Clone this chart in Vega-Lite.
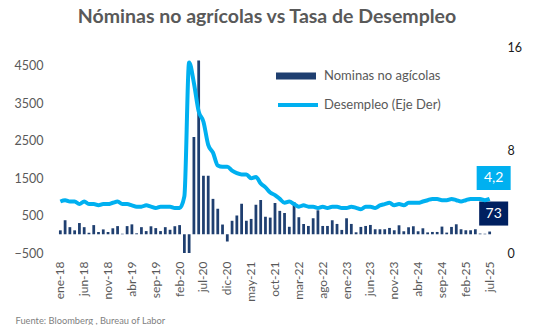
{
  "$schema": "https://vega.github.io/schema/vega-lite/v6.json",
  "width": 434,
  "height": 206,
  "autosize": {"type": "none"},
  "padding": {"left": 58, "top": 47, "right": 56, "bottom": 72},
  "background": "white",
  "config": {
    "font": "Lato",
    "view": {"stroke": null},
    "axis": {"grid": false, "domain": false, "ticks": false}
  },
  "title": {
    "text": "Nóminas no agrícolas vs Tasa de Desempleo",
    "fontSize": 19.5,
    "fontWeight": "bold",
    "color": "#595959",
    "font": "Lato",
    "anchor": "middle",
    "dx": -8,
    "offset": 14
  },
  "data": {
    "values": [
      {"mes": "ene-18", "nominas": 105, "desempleo": 4.0},
      {"mes": "feb-18", "nominas": 375, "desempleo": 4.1},
      {"mes": "mar-18", "nominas": 190, "desempleo": 4.0},
      {"mes": "abr-18", "nominas": 105, "desempleo": 4.0},
      {"mes": "may-18", "nominas": 300, "desempleo": 3.8},
      {"mes": "jun-18", "nominas": 190, "desempleo": 4.0},
      {"mes": "jul-18", "nominas": 40, "desempleo": 3.8},
      {"mes": "ago-18", "nominas": 245, "desempleo": 3.8},
      {"mes": "sep-18", "nominas": 60, "desempleo": 3.7},
      {"mes": "oct-18", "nominas": 130, "desempleo": 3.8},
      {"mes": "nov-18", "nominas": 60, "desempleo": 3.8},
      {"mes": "dic-18", "nominas": 160, "desempleo": 3.9},
      {"mes": "ene-19", "nominas": 218, "desempleo": 4.0},
      {"mes": "feb-19", "nominas": 15, "desempleo": 3.8},
      {"mes": "mar-19", "nominas": 218, "desempleo": 3.8},
      {"mes": "abr-19", "nominas": 265, "desempleo": 3.7},
      {"mes": "may-19", "nominas": 25, "desempleo": 3.6},
      {"mes": "jun-19", "nominas": 190, "desempleo": 3.6},
      {"mes": "jul-19", "nominas": 85, "desempleo": 3.7},
      {"mes": "ago-19", "nominas": 213, "desempleo": 3.6},
      {"mes": "sep-19", "nominas": 165, "desempleo": 3.5},
      {"mes": "oct-19", "nominas": 85, "desempleo": 3.6},
      {"mes": "nov-19", "nominas": 190, "desempleo": 3.6},
      {"mes": "dic-19", "nominas": 120, "desempleo": 3.6},
      {"mes": "ene-20", "nominas": 215, "desempleo": 3.5},
      {"mes": "feb-20", "nominas": 245, "desempleo": 3.5},
      {"mes": "mar-20", "nominas": -1373, "desempleo": 4.4},
      {"mes": "abr-20", "nominas": -20477, "desempleo": 14.8},
      {"mes": "may-20", "nominas": 2600, "desempleo": 13.2},
      {"mes": "jun-20", "nominas": 4640, "desempleo": 11.0},
      {"mes": "jul-20", "nominas": 1560, "desempleo": 10.2},
      {"mes": "ago-20", "nominas": 1560, "desempleo": 8.4},
      {"mes": "sep-20", "nominas": 945, "desempleo": 7.8},
      {"mes": "oct-20", "nominas": 680, "desempleo": 6.8},
      {"mes": "nov-20", "nominas": 260, "desempleo": 6.7},
      {"mes": "dic-20", "nominas": -190, "desempleo": 6.7},
      {"mes": "ene-21", "nominas": 360, "desempleo": 6.4},
      {"mes": "feb-21", "nominas": 500, "desempleo": 6.2},
      {"mes": "mar-21", "nominas": 815, "desempleo": 6.1},
      {"mes": "abr-21", "nominas": 360, "desempleo": 6.1},
      {"mes": "may-21", "nominas": 410, "desempleo": 5.8},
      {"mes": "jun-21", "nominas": 785, "desempleo": 5.9},
      {"mes": "jul-21", "nominas": 915, "desempleo": 5.4},
      {"mes": "ago-21", "nominas": 470, "desempleo": 5.1},
      {"mes": "sep-21", "nominas": 445, "desempleo": 4.7},
      {"mes": "oct-21", "nominas": 835, "desempleo": 4.5},
      {"mes": "nov-21", "nominas": 625, "desempleo": 4.2},
      {"mes": "dic-21", "nominas": 570, "desempleo": 3.9},
      {"mes": "ene-22", "nominas": 200, "desempleo": 4.0},
      {"mes": "feb-22", "nominas": 855, "desempleo": 3.8},
      {"mes": "mar-22", "nominas": 455, "desempleo": 3.6},
      {"mes": "abr-22", "nominas": 275, "desempleo": 3.7},
      {"mes": "may-22", "nominas": 222, "desempleo": 3.6},
      {"mes": "jun-22", "nominas": 427, "desempleo": 3.6},
      {"mes": "jul-22", "nominas": 640, "desempleo": 3.5},
      {"mes": "ago-22", "nominas": 222, "desempleo": 3.6},
      {"mes": "sep-22", "nominas": 222, "desempleo": 3.5},
      {"mes": "oct-22", "nominas": 374, "desempleo": 3.6},
      {"mes": "nov-22", "nominas": 276, "desempleo": 3.6},
      {"mes": "dic-22", "nominas": 116, "desempleo": 3.5},
      {"mes": "ene-23", "nominas": 427, "desempleo": 3.5},
      {"mes": "feb-23", "nominas": 276, "desempleo": 3.6},
      {"mes": "mar-23", "nominas": 53, "desempleo": 3.5},
      {"mes": "abr-23", "nominas": 196, "desempleo": 3.4},
      {"mes": "may-23", "nominas": 222, "desempleo": 3.6},
      {"mes": "jun-23", "nominas": 249, "desempleo": 3.6},
      {"mes": "jul-23", "nominas": 134, "desempleo": 3.5},
      {"mes": "ago-23", "nominas": 134, "desempleo": 3.7},
      {"mes": "sep-23", "nominas": 134, "desempleo": 3.8},
      {"mes": "oct-23", "nominas": 169, "desempleo": 3.9},
      {"mes": "nov-23", "nominas": 107, "desempleo": 3.7},
      {"mes": "dic-23", "nominas": 240, "desempleo": 3.8},
      {"mes": "ene-24", "nominas": 80, "desempleo": 3.7},
      {"mes": "feb-24", "nominas": 187, "desempleo": 3.9},
      {"mes": "mar-24", "nominas": 214, "desempleo": 3.9},
      {"mes": "abr-24", "nominas": 80, "desempleo": 3.9},
      {"mes": "may-24", "nominas": 160, "desempleo": 4.0},
      {"mes": "jun-24", "nominas": 50, "desempleo": 4.1},
      {"mes": "jul-24", "nominas": 62, "desempleo": 4.2},
      {"mes": "ago-24", "nominas": 62, "desempleo": 4.2},
      {"mes": "sep-24", "nominas": 205, "desempleo": 4.1},
      {"mes": "oct-24", "nominas": 45, "desempleo": 4.1},
      {"mes": "nov-24", "nominas": 196, "desempleo": 4.2},
      {"mes": "dic-24", "nominas": 267, "desempleo": 4.1},
      {"mes": "ene-25", "nominas": 134, "desempleo": 4.0},
      {"mes": "feb-25", "nominas": 107, "desempleo": 4.1},
      {"mes": "mar-25", "nominas": 107, "desempleo": 4.2},
      {"mes": "abr-25", "nominas": 134, "desempleo": 4.2},
      {"mes": "may-25", "nominas": 19, "desempleo": 4.2},
      {"mes": "jun-25", "nominas": 14, "desempleo": 4.1},
      {"mes": "jul-25", "nominas": 73, "desempleo": 4.2}
    ]
  },
  "encoding": {
    "x": {
      "field": "mes",
      "type": "ordinal",
      "sort": null,
      "scale": {"paddingInner": 0.42, "paddingOuter": 0.2},
      "axis": {
        "values": ["ene-18", "jun-18", "nov-18", "abr-19", "sep-19", "feb-20", "jul-20", "dic-20", "may-21", "oct-21", "mar-22", "ago-22", "ene-23", "jun-23", "nov-23", "abr-24", "sep-24", "feb-25", "jul-25"],
        "labelAngle": -90,
        "labelFontSize": 12,
        "labelColor": "#595959",
        "labelPadding": 8,
        "labelOverlap": false,
        "title": "Fuente: Bloomberg  , Bureau of Labor",
        "titleFontSize": 9.3,
        "titleFontWeight": "normal",
        "titleColor": "#7F7F7F",
        "titleAnchor": "start",
        "titleAlign": "left",
        "titleBaseline": "middle",
        "titleX": -43,
        "titleY": 67
      }
    }
  },
  "layer": [
    {
      "layer": [
        {
          "mark": {"type": "rule", "color": "#D9D9D9", "strokeWidth": 2},
          "encoding": {"y": {"datum": 0, "type": "quantitative"}}
        },
        {
          "mark": {"type": "bar", "clip": true},
          "encoding": {
            "y": {
              "field": "nominas",
              "type": "quantitative",
              "scale": {"domain": [-500, 5000], "nice": false, "zero": false},
              "axis": {
                "orient": "left",
                "values": [-500, 500, 1500, 2500, 3500, 4500],
                "format": "d",
                "labelFontSize": 12.5,
                "labelColor": "#595959",
                "labelPadding": 15,
                "title": null
              }
            },
            "fill": {
              "datum": "Nominas no agícolas",
              "scale": {"range": ["#1F3F70"]},
              "legend": {
                "orient": "none",
                "legendX": 218,
                "legendY": 9,
                "title": null,
                "padding": 0,
                "symbolType": "M-1,-0.175H1V0.175H-1Z",
                "symbolSize": 1600,
                "symbolStrokeWidth": 0,
                "labelFontSize": 13,
                "labelColor": "#595959",
                "labelOffset": 8
              }
            }
          }
        },
        {
          "transform": [{"filter": "datum.mes === 'jul-25'"}],
          "mark": {"type": "point", "filled": true, "opacity": 1, "fill": "#002060", "strokeWidth": 0, "shape": "M-1,-0.83H1V0.83H-1Z", "size": 841, "xOffset": 4, "yOffset": -18},
          "encoding": {"y": {"field": "nominas", "type": "quantitative"}}
        },
        {
          "transform": [{"filter": "datum.mes === 'jul-25'"}],
          "mark": {"type": "text", "color": "white", "fontSize": 14, "align": "center", "baseline": "middle", "xOffset": 4, "yOffset": -18},
          "encoding": {
            "y": {"field": "nominas", "type": "quantitative"},
            "text": {"field": "nominas", "type": "quantitative"}
          }
        }
      ]
    },
    {
      "layer": [
        {
          "mark": {"type": "line", "strokeWidth": 4, "interpolate": "monotone"},
          "encoding": {
            "y": {
              "field": "desempleo",
              "type": "quantitative",
              "scale": {"domain": [0, 16], "nice": false, "zero": false},
              "axis": {
                "orient": "right",
                "values": [0, 8, 16],
                "labelFontSize": 12.5,
                "labelColor": "#1A1A1A",
                "labelPadding": 15,
                "title": null
              }
            },
            "stroke": {
              "datum": "Desempleo (Eje Der)",
              "scale": {"range": ["#00B0F0"]},
              "legend": {
                "orient": "none",
                "legendX": 218,
                "legendY": 36,
                "title": null,
                "padding": 0,
                "symbolType": "stroke",
                "symbolSize": 1600,
                "symbolStrokeWidth": 4,
                "labelFontSize": 13,
                "labelColor": "#595959",
                "labelOffset": 4
              }
            }
          }
        },
        {
          "transform": [{"filter": "datum.mes === 'jul-25'"}],
          "mark": {"type": "point", "filled": true, "opacity": 1, "fill": "#00B0F0", "strokeWidth": 0, "shape": "M-1,-0.706H1V0.706H-1Z", "size": 1156, "xOffset": 4, "yOffset": -21},
          "encoding": {"y": {"field": "desempleo", "type": "quantitative"}}
        },
        {
          "transform": [
            {"filter": "datum.mes === 'jul-25'"},
            {"calculate": "replace(format(datum.desempleo, '.1f'), '.', ',')", "as": "etiqueta"}
          ],
          "mark": {"type": "text", "color": "white", "fontSize": 14, "align": "center", "baseline": "middle", "xOffset": 4, "yOffset": -21},
          "encoding": {
            "y": {"field": "desempleo", "type": "quantitative"},
            "text": {"field": "etiqueta", "type": "nominal"}
          }
        }
      ]
    }
  ],
  "resolve": {"scale": {"y": "independent"}}
}
